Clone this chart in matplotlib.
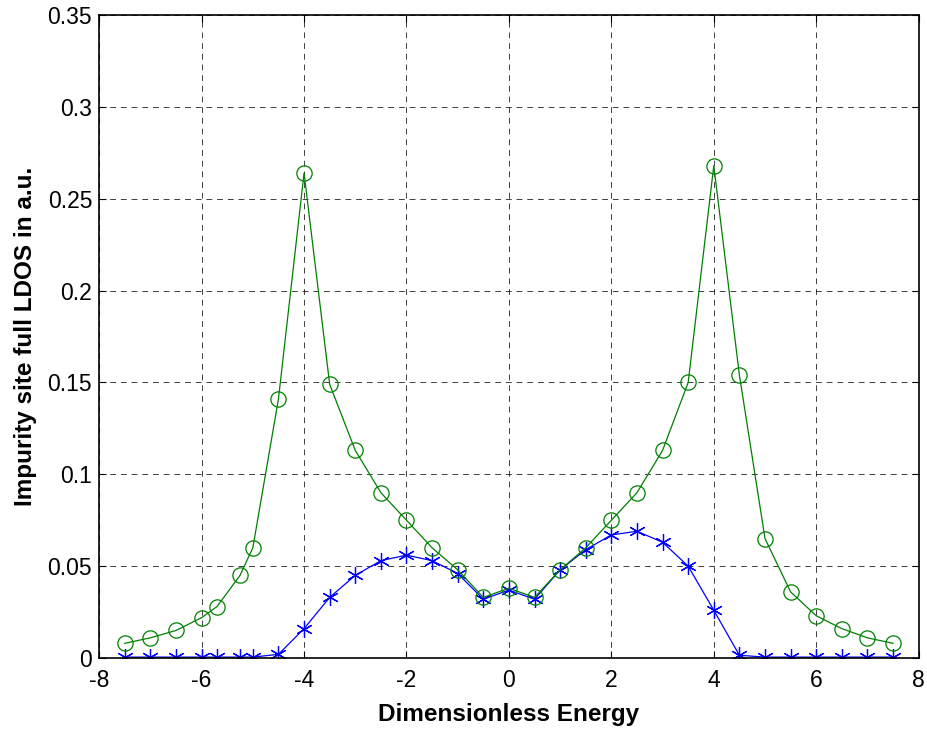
import matplotlib.pyplot as plt

# energies (left side has two off-grid samples)
energy = [-7.5, -7, -6.5, -6, -5.7, -5.25, -5, -4.5, -4, -3.5, -3, -2.5, -2, -1.5,
          -1, -0.5, 0, 0.5, 1, 1.5, 2, 2.5, 3, 3.5, 4, 4.5, 5, 5.5, 6, 6.5, 7, 7.5]

ldos_green = [0.008, 0.011, 0.015, 0.022, 0.028, 0.045, 0.060, 0.141, 0.264, 0.149,
              0.113, 0.090, 0.075, 0.060, 0.048, 0.033, 0.038, 0.033, 0.048, 0.060,
              0.075, 0.090, 0.113, 0.150, 0.268, 0.154, 0.065, 0.036, 0.023, 0.016,
              0.011, 0.008]

ldos_blue = [0.0005, 0.0005, 0.0005, 0.0005, 0.0005, 0.0005, 0.0005, 0.002, 0.016, 0.033,
             0.045, 0.053, 0.056, 0.053, 0.046, 0.032, 0.037, 0.032, 0.048, 0.059,
             0.067, 0.069, 0.063, 0.050, 0.026, 0.0015, 0.0005, 0.0005, 0.0005, 0.0005,
             0.0005, 0.0005]

plt.rcParams['font.family'] = ['Liberation Sans', 'DejaVu Sans']
plt.rcParams['axes.unicode_minus'] = False

fig = plt.figure(figsize=(9.27, 7.3), dpi=100)
ax = fig.add_axes([0.107, 0.0986, 0.884, 0.8808])

# matlab style asterisk marker
ax.plot(energy, ldos_blue, '-', color='#0000ff', lw=0.9, marker=(6, 2, 0), ms=12, mew=0.9)
ax.plot(energy, ldos_green, '-o', color='#008000', lw=0.9, ms=11, mew=0.9,
        markerfacecolor='none')

ax.set_xlim(-8, 8)
ax.set_ylim(0, 0.35)
ax.set_xticks(range(-8, 9, 2))
ax.set_yticks([0, 0.05, 0.1, 0.15, 0.2, 0.25, 0.3, 0.35])
ax.set_yticklabels(['0', '0.05', '0.1', '0.15', '0.2', '0.25', '0.3', '0.35'])

ax.grid(True, color='black', linestyle=(0, (6, 5)), linewidth=0.7, alpha=0.75)
ax.tick_params(direction='in', top=True, right=True, labelsize=16.5, length=5)
ax.tick_params(axis='x', pad=8)
ax.tick_params(axis='y', pad=5)
for s in ax.spines.values():
    s.set_linewidth(1.2)

ax.set_xlabel('Dimensionless Energy', fontsize=17.5, fontweight='bold', labelpad=8)
ax.set_ylabel('Impurity site full LDOS in a.u.', fontsize=17.5, fontweight='bold', labelpad=8)

fig.savefig('out.png', dpi=100)
